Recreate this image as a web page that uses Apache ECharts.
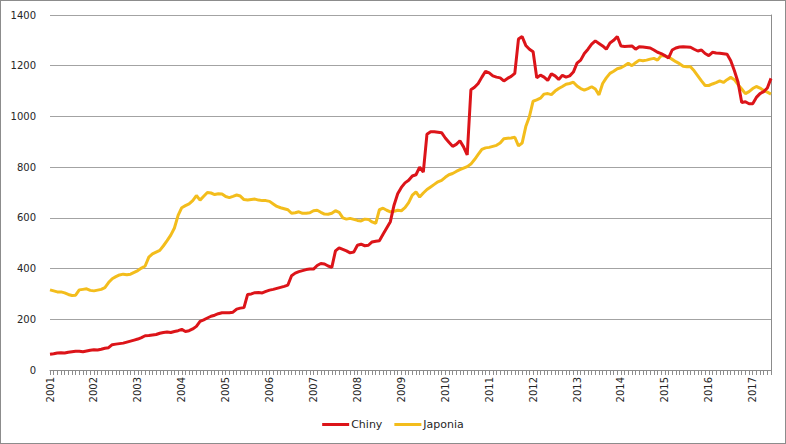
<!DOCTYPE html>
<html>
<head>
<meta charset="utf-8">
<script src="https://cdn.jsdelivr.net/npm/echarts@6/dist/echarts.min.js"></script>
<style>
  html, body { margin: 0; padding: 0; background: #fff; }
  #chart { width: 786px; height: 444px; box-sizing: border-box; border: 1px solid #8c8c8c; }
</style>
</head>
<body>
<div id="chart"></div>
<script>
(function() {
  'use strict';

  var colorRed = '#dc1419';
  var colorYellow = '#f3bd1c';
  var colorGrid = '#a3a3a3';
  var colorText = '#262626';
  var fontFamily = 'DejaVu Sans, Verdana, sans-serif';

  // monthly points, Jan 2001 .. Jun 2017
  var years = [2001, 2002, 2003, 2004, 2005, 2006, 2007, 2008, 2009, 2010, 2011, 2012, 2013, 2014, 2015, 2016, 2017];
  var months = ['01', '02', '03', '04', '05', '06', '07', '08', '09', '10', '11', '12'];
  var lastMonth = 6;

  var yTicks = [0, 200, 400, 600, 800, 1000, 1200, 1400];

  var chiny = [
    62, 64, 67, 68, 67, 70, 72, 74, 74, 72, 75, 78,
    80, 79, 82, 86, 88, 100, 102, 104, 106, 110, 114, 118,
    122, 128, 135, 136, 138, 140, 145, 148, 150, 148, 152, 155,
    160, 152, 155, 162, 172, 192, 198, 205, 212, 216, 222, 226,
    226, 226, 228, 240, 244, 246, 298, 300, 305, 306, 304, 310,
    315, 318, 322, 326, 330, 335, 372, 382, 388, 392, 396, 398,
    398, 412, 420, 418, 410, 405, 470, 482, 476, 470, 462, 465,
    492, 496, 490, 492, 505, 508, 510, 535, 560, 585, 650, 695,
    720, 738, 748, 765, 770, 800, 780, 930, 940, 940, 938, 936,
    915, 898, 882, 890, 904, 880, 848, 1105, 1115, 1130, 1155, 1178,
    1172, 1160, 1155, 1152, 1140, 1150, 1158, 1170, 1305, 1315, 1280, 1265,
    1255, 1152, 1163, 1155, 1142, 1168, 1160, 1146, 1162, 1155, 1160, 1175,
    1210, 1222, 1248, 1265, 1285, 1298, 1288, 1278, 1265, 1290, 1300, 1315,
    1278, 1276, 1277, 1278, 1265, 1275, 1274, 1272, 1270, 1262, 1253, 1248,
    1240, 1230, 1262, 1270, 1274, 1275, 1274, 1273, 1265, 1258, 1262, 1248,
    1240, 1253, 1250, 1249, 1247, 1245, 1220, 1180, 1135, 1055, 1058, 1050,
    1050, 1075, 1090, 1098, 1112, 1150
  ];

  var japonia = [
    316, 312, 308, 308, 304, 298, 294, 295, 316, 318, 320, 314,
    312, 315, 318, 325, 345, 360, 368, 375, 378, 376, 378, 385,
    392, 402, 410, 445, 458, 465, 472, 490, 510, 532, 560, 610,
    640, 648, 655, 668, 688, 670, 685, 700, 698, 692, 695, 694,
    684, 680, 685, 690, 686, 672, 670, 672, 674, 670, 668, 668,
    665, 655, 645, 640, 636, 632, 618, 620, 624, 618, 618, 620,
    628, 630, 622, 615, 614, 618, 628, 622, 600, 595, 598, 594,
    590, 588, 595, 594, 584, 578, 632, 638, 630, 624, 626, 630,
    628, 640, 660, 690, 702, 682, 698, 712, 722, 732, 742, 748,
    760, 770, 775, 783, 790, 796, 802, 812, 830, 850, 870, 876,
    878, 882, 886, 895, 912, 914, 915, 918, 884, 895, 960, 1000,
    1060, 1065, 1072, 1088, 1090, 1086, 1100, 1110, 1118, 1127, 1130, 1135,
    1120, 1110, 1104, 1110, 1117, 1108, 1085, 1130, 1152, 1170, 1178, 1188,
    1192, 1200, 1210, 1200, 1212, 1222, 1220, 1222, 1226, 1229, 1222, 1240,
    1238, 1234, 1225, 1216, 1208, 1198, 1196, 1196, 1180, 1160, 1140, 1122,
    1122, 1128, 1133, 1140, 1134, 1145, 1154, 1145, 1125, 1108, 1090, 1098,
    1110, 1118, 1112, 1102, 1096, 1088
  ];

  var categories = [];
  years.forEach(function(y) {
    var n = y === years[years.length - 1] ? lastMonth : 12;
    for (var m = 0; m < n; m++) categories.push(y + '-' + months[m]);
  });

  var chart = echarts.init(document.getElementById('chart'), null, { renderer: 'svg' });
  chart.setOption({
    animation: false,
    textStyle: { fontFamily: fontFamily },
    grid: { left: 49, right: 14, top: 14, bottom: 73 },
    legend: {
      data: ['Chiny', 'Japonia'],
      top: 413,
      left: 'center',
      icon: 'rect',
      itemWidth: 27,
      itemHeight: 3,
      itemGap: 12,
      textStyle: { color: colorText, fontSize: 11, padding: [0, 0, 0, -3] }
    },
    xAxis: {
      type: 'category',
      boundaryGap: false,
      data: categories,
      axisLine: { lineStyle: { color: '#8c8c8c', width: 1 } },
      axisTick: { interval: 0, length: 5, lineStyle: { color: '#8c8c8c' } },
      axisLabel: {
        interval: 11,
        rotate: 90,
        margin: 7,
        color: colorText,
        fontSize: 10,
        formatter: function(v) { return v.slice(0, 4); }
      },
      splitLine: { show: false }
    },
    yAxis: [
      {
        type: 'value',
        min: yTicks[0],
        max: yTicks[yTicks.length - 1],
        interval: 200,
        axisLine: { show: false },
        axisTick: { show: false },
        splitLine: { lineStyle: { color: colorGrid, width: 1 } },
        axisLabel: {
          color: colorText, fontSize: 10, margin: 14,
          formatter: function(v) { return String(v); }
        }
      },
      {
        type: 'value',
        position: 'right',
        min: yTicks[0],
        max: yTicks[yTicks.length - 1],
        interval: 200,
        axisLine: { show: true, lineStyle: { color: '#8c8c8c' } },
        axisTick: { show: false },
        axisLabel: { show: false },
        splitLine: { show: false }
      }
    ],
    series: [
      {
        name: 'Chiny',
        type: 'line',
        data: chiny,
        symbol: 'none',
        lineStyle: { width: 3, color: colorRed },
        itemStyle: { color: colorRed },
        z: 3
      },
      {
        name: 'Japonia',
        type: 'line',
        data: japonia,
        symbol: 'none',
        lineStyle: { width: 3, color: colorYellow },
        itemStyle: { color: colorYellow },
        z: 2
      }
    ]
  });
})();
</script>
</body>
</html>
